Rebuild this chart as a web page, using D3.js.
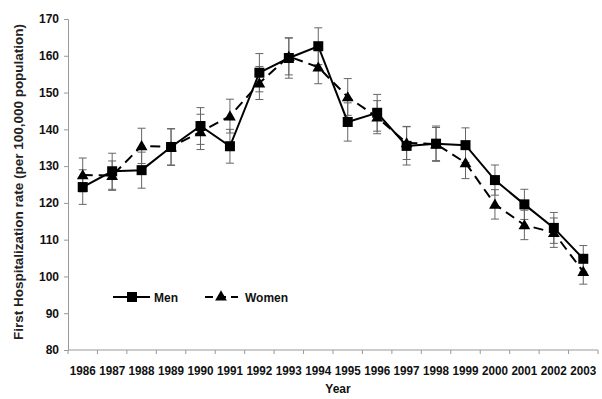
<!DOCTYPE html>
<html><head><meta charset="utf-8">
<script src="https://cdn.jsdelivr.net/npm/d3@7"></script>
<style>body{margin:0;background:#fff}svg{display:block}</style>
</head><body>
<svg id="c" width="602" height="399"></svg>
<script>
const years = ["1986","1987","1988","1989","1990","1991","1992","1993","1994","1995","1996","1997","1998","1999","2000","2001","2002","2003"];
const menValues = [124.3,128.6,128.9,135.2,140.9,135.4,155.4,159.4,162.6,142.0,144.5,135.5,136.1,135.7,126.2,119.6,113.2,104.8];
const menErrors = [4.7,4.9,4.9,5.0,5.0,4.6,5.2,5.5,5.0,5.2,5.0,5.2,4.8,4.7,4.1,4.1,4.2,3.6];
const womenValues = [127.6,127.4,135.5,135.2,139.3,143.6,152.6,159.8,156.9,148.8,143.3,136.3,136.0,130.9,119.6,114.0,111.9,101.3];
const womenErrors = [4.6,4.0,4.8,4.9,4.8,4.6,4.5,5.0,4.5,5.0,4.5,4.5,4.5,4.3,4.0,4.0,4.0,3.4];
const yTicks = [80,90,100,110,120,130,140,150,160,170];
const seriesNames = ["Men","Women"];

(function(){
const svg = d3.select("#c");
const font = "'Liberation Sans', Arial, sans-serif";
const pL = 68, pR = 598, pT = 19, pB = 350;

const x = d3.scaleBand().domain(years).range([pL, pR]);
const y = d3.scaleLinear().domain([80,170]).range([pB, pT]);

// Y axis
const yAxis = svg.append("g").attr("transform", `translate(${pL},0)`)
  .call(d3.axisLeft(y).tickValues(yTicks).tickSize(4).tickPadding(5));
yAxis.select(".domain").attr("stroke","#999");
yAxis.selectAll(".tick line").attr("stroke","#999");
yAxis.selectAll(".tick text").attr("font-family",font).attr("font-size","12px").attr("font-weight","bold").attr("fill","#111");

// X axis with ticks between categories
const xg = svg.append("g").attr("transform", `translate(0,${pB})`);
xg.append("line").attr("x1",pL).attr("x2",pR).attr("stroke","#999");
const bounds = years.map(d => x(d)).concat([pR]);
xg.selectAll("line.tk").data(bounds).join("line").attr("class","tk")
  .attr("x1",d=>d).attr("x2",d=>d).attr("y1",0).attr("y2",4).attr("stroke","#999");
xg.selectAll("text").data(years).join("text")
  .attr("x", d => x(d) + x.bandwidth()/2).attr("y", 25)
  .attr("text-anchor","middle").attr("font-family",font).attr("font-size","12px")
  .attr("font-weight","bold").attr("fill","#111").attr("textLength",26).attr("lengthAdjust","spacingAndGlyphs").text(d=>d);

// Axis titles
svg.append("text").attr("x",(pL+pR)/2+5).attr("y",393).attr("text-anchor","middle")
  .attr("font-family",font).attr("font-size","12px").attr("font-weight","bold").attr("fill","#111").text("Year");
svg.append("text").attr("transform","translate(23,182) rotate(-90)").attr("text-anchor","middle")
  .attr("font-family",font).attr("font-size","13.4px").attr("font-weight","bold").attr("fill","#222")
  .attr("textLength",316).attr("lengthAdjust","spacingAndGlyphs")
  .text("First Hospitalization rate (per 100,000 population)");

const cx = d => x(d) + x.bandwidth()/2;

function errorBars(vals, errs) {
  const g = svg.append("g").attr("stroke","#666").attr("stroke-width",1);
  years.forEach((yr,i) => {
    const X = cx(yr);
    g.append("line").attr("x1",X).attr("x2",X).attr("y1",y(vals[i]-errs[i])).attr("y2",y(vals[i]+errs[i]));
    [vals[i]-errs[i], vals[i]+errs[i]].forEach(v =>
      g.append("line").attr("x1",X-4).attr("x2",X+4).attr("y1",y(v)).attr("y2",y(v)));
  });
}
errorBars(menValues, menErrors);
errorBars(womenValues, womenErrors);

const line = d3.line().x((d,i)=>cx(years[i])).y(d=>y(d));
svg.append("path").datum(womenValues).attr("d",line).attr("fill","none")
  .attr("stroke","#000").attr("stroke-width",2).attr("stroke-dasharray","10,6");
svg.append("path").datum(menValues).attr("d",line).attr("fill","none")
  .attr("stroke","#000").attr("stroke-width",2);

const tri = d3.symbol().type(d3.symbolTriangle).size(60);
svg.selectAll("path.tri").data(womenValues).join("path").attr("class","tri")
  .attr("d",tri).attr("transform",(d,i)=>`translate(${cx(years[i])},${y(d)+1})`).attr("fill","#000");
svg.selectAll("rect.sq").data(menValues).join("rect").attr("class","sq")
  .attr("x",(d,i)=>cx(years[i])-5).attr("y",d=>y(d)-5).attr("width",10).attr("height",10).attr("fill","#000");

// Legend
const lg = svg.append("g");
lg.append("line").attr("x1",113).attr("x2",150).attr("y1",297).attr("y2",297).attr("stroke","#000").attr("stroke-width",2);
lg.append("rect").attr("x",127).attr("y",292).attr("width",10).attr("height",10).attr("fill","#000");
lg.append("text").attr("x",154).attr("y",301.5).attr("font-family",font).attr("font-size","12px")
  .attr("font-weight","bold").attr("fill","#111").text(seriesNames[0]);
lg.append("line").attr("x1",205).attr("x2",238).attr("y1",297).attr("y2",297).attr("stroke","#000").attr("stroke-width",2).attr("stroke-dasharray","8,5");
lg.append("path").attr("d",tri).attr("transform","translate(221,297)").attr("fill","#000");
lg.append("text").attr("x",245).attr("y",301.5).attr("font-family",font).attr("font-size","12px")
  .attr("font-weight","bold").attr("fill","#111").text(seriesNames[1]);
})();
</script>
</body></html>
